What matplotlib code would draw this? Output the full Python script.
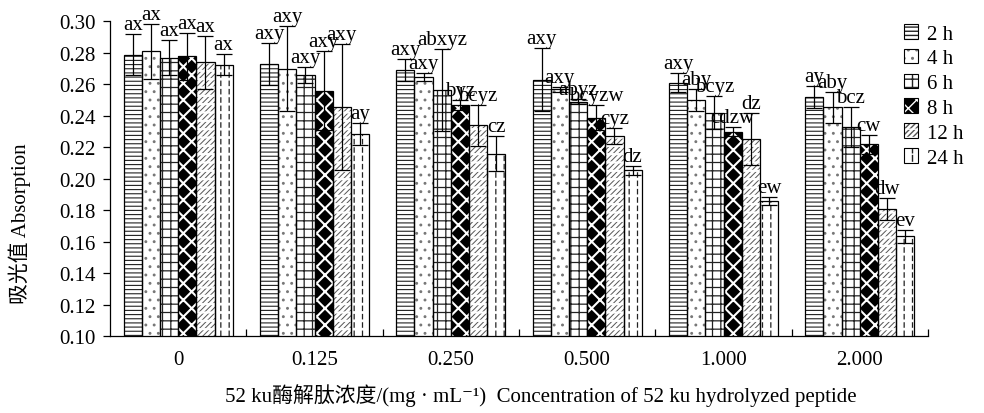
import numpy as np
import matplotlib
matplotlib.use("Agg")
import matplotlib.pyplot as plt
from matplotlib.patches import Patch
from matplotlib.legend_handler import HandlerTuple

plt.rcParams['font.family'] = ['Liberation Serif', 'Noto Sans CJK SC', 'DejaVu Sans']
plt.rcParams['font.size'] = 15

# peptide concentrations (mg/mL) and incubation times
concs = ['0', '0.125', '0.250', '0.500', '1.000', '2.000']
times = ['2 h', '4 h', '6 h', '8 h', '12 h', '24 h']

# absorption, one list per incubation time (in order of concentration)
abs_2h = [0.279, 0.273, 0.269, 0.263, 0.261, 0.252]
abs_4h = [0.281, 0.270, 0.265, 0.257, 0.250, 0.2455]
abs_6h = [0.277, 0.266, 0.2565, 0.249, 0.242, 0.233]
abs_8h = [0.278, 0.256, 0.247, 0.239, 0.230, 0.222]
abs_12h = [0.274, 0.2455, 0.234, 0.2275, 0.2255, 0.181]
abs_24h = [0.2725, 0.2285, 0.216, 0.2055, 0.186, 0.1635]

# standard deviations
sd_2h = [0.013, 0.0135, 0.007, 0.020, 0.006, 0.007]
sd_4h = [0.0176, 0.027, 0.0025, 0.0015, 0.007, 0.010]
sd_6h = [0.011, 0.005, 0.026, 0.0015, 0.0105, 0.013]
sd_8h = [0.015, 0.025, 0.003, 0.008, 0.003, 0.006]
sd_12h = [0.017, 0.040, 0.013, 0.005, 0.0165, 0.007]
sd_24h = [0.0067, 0.007, 0.011, 0.003, 0.0027, 0.004]

# significance letters
sig_2h = ['ax', 'axy', 'axy', 'axy', 'axy', 'ay']
sig_4h = ['ax', 'axy', 'axy', 'axy', 'aby', 'aby']
sig_6h = ['ax', 'axy', 'abxyz', 'abyz', 'bcyz', 'bcz']
sig_8h = ['ax', 'axy', 'byz', 'bcyzw', 'cdzw', 'cw']
sig_12h = ['ax', 'axy', 'bcyz', 'cyz', 'dz', 'dw']
sig_24h = ['ax', 'ay', 'cz', 'dz', 'ew', 'ev']

values = [abs_2h, abs_4h, abs_6h, abs_8h, abs_12h, abs_24h]
errors = [sd_2h, sd_4h, sd_6h, sd_8h, sd_12h, sd_24h]
letters = [sig_2h, sig_4h, sig_6h, sig_8h, sig_12h, sig_24h]

# fill pattern per series: face, hatch colour, hatch, hatch width, breaks
# (breaks = white horizontal lines laid over the hatch to make it dashed)
styles = [
    ('white', '#222222', '----', 0.8, None),
    ('white', '#777777', '..', 0.9, None),
    ('white', '#222222', '++', 0.9, None),
    ('black', 'white', 'xx', 1.5, None),
    ('white', '#555555', '//////', 0.7, ('--', 1.6)),
    ('white', '#222222', '||', 0.9, ('--', 2.0)),
]


def hatched(p, lw):
    if hasattr(p, 'set_hatch_linewidth'):
        p.set_hatch_linewidth(lw)


fig = plt.figure(figsize=(9.84, 4.14), dpi=100)
ax = fig.add_axes([0.1118, 0.1848, 0.8313, 0.7609])

x = np.arange(len(concs))
w = 0.8 / len(times)

handles = []
for i, (vals, errs, lets) in enumerate(zip(values, errors, letters)):
    face, hcol, hatch, hlw, breaks = styles[i]
    xs = x + (i - 2.5) * w
    with plt.rc_context({'hatch.linewidth': hlw}):
        fill = ax.bar(xs, vals, w, color=face, edgecolor=hcol,
                      hatch=hatch, linewidth=0, zorder=2)
    for p in fill:
        hatched(p, hlw)
    hp = Patch(facecolor=face, edgecolor=hcol, hatch=hatch, linewidth=0)
    hatched(hp, hlw * 0.7)
    parts = [hp]
    if breaks is not None:
        bh, blw = breaks
        with plt.rc_context({'hatch.linewidth': blw}):
            cut = ax.bar(xs, vals, w, facecolor='none', edgecolor='white',
                         hatch=bh, linewidth=0, zorder=2.5)
        for p in cut:
            hatched(p, blw)
        bp = Patch(facecolor='none', edgecolor='white', hatch=bh, linewidth=0)
        hatched(bp, blw * 0.7)
        parts.append(bp)
    ax.bar(xs, vals, w, facecolor='none', edgecolor='black',
           linewidth=0.9, zorder=3)
    ax.errorbar(xs, vals, yerr=errs, fmt='none', ecolor='black',
                elinewidth=0.9, capsize=6, capthick=0.9, zorder=4)
    for xi, v, e, s in zip(xs, vals, errs, lets):
        ax.annotate(s, (xi, v + e), xytext=(0, 0), textcoords='offset points',
                    ha='center', va='bottom', fontsize=15, zorder=5)

    parts.append(Patch(facecolor='none', edgecolor='black', linewidth=0.8))
    handles.append(tuple(parts))

ax.set_xlim(-0.5, len(concs) - 0.5)
ax.set_ylim(0.10, 0.30)
yt = np.arange(0.10, 0.301, 0.02)
ax.set_yticks(yt)
ax.set_yticklabels([f'{t:.2f}' for t in yt])
ax.set_xticks(x)
ax.set_xticklabels(concs)
ax.set_xticks(np.arange(0.5, len(concs), 1.0), minor=True)
ax.tick_params(axis='x', which='major', length=0, pad=10)
ax.tick_params(axis='x', which='minor', direction='in', length=5, width=0.9)
ax.tick_params(axis='y', direction='out', length=5, width=0.9, pad=5)
for side in ['top', 'right']:
    ax.spines[side].set_visible(False)
for side in ['left', 'bottom']:
    ax.spines[side].set_linewidth(0.9)

fig.text(0.02, 0.46, '吸光值 Absorption', rotation=90, ha='center', va='center',
         fontsize=15)
fig.text(0.55, 0.045,
         '52 ku酶解肽浓度/(mg · mL⁻¹)  Concentration of 52 ku hydrolyzed peptide',
         ha='center', va='center', fontsize=15)

fig.legend(handles, times, loc='upper right', bbox_to_anchor=(0.998, 0.985),
           frameon=False, fontsize=15, handlelength=0.7, handleheight=0.7,
           handletextpad=0.4, labelspacing=0.25,
           handler_map={tuple: HandlerTuple(ndivide=1)})

fig.savefig('out.png', dpi=100)
